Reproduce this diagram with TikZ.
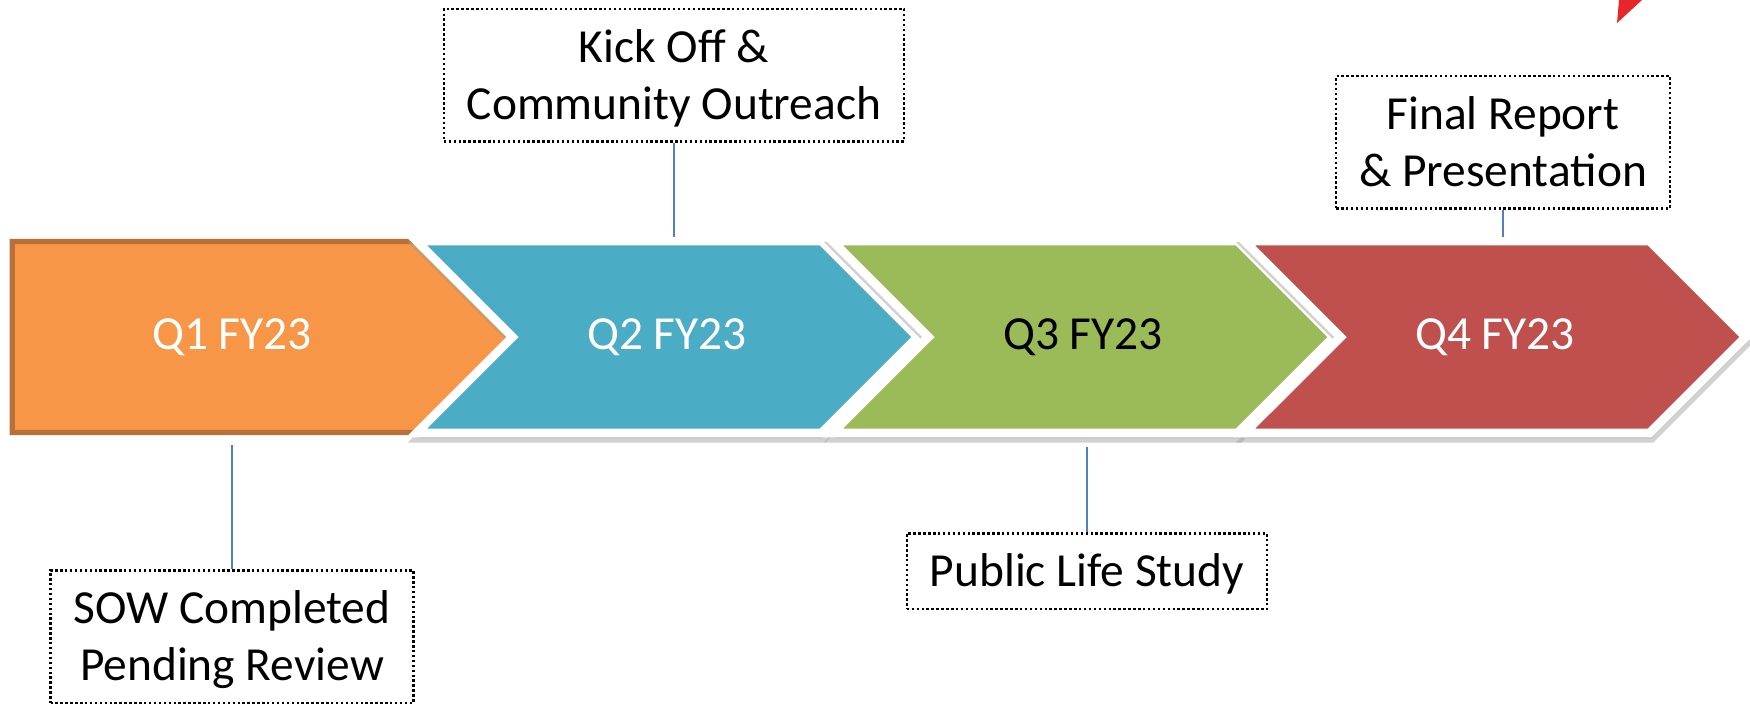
\documentclass[tikz,border=0pt]{standalone}
\usepackage{fontspec}
\setmainfont{Carlito}
\usetikzlibrary{shapes.symbols, positioning, shadows}
\definecolor{qorange}{HTML}{F79646}
\definecolor{qorangeline}{HTML}{B8703A}
\definecolor{qteal}{HTML}{4BACC6}
\definecolor{qgreen}{HTML}{9BBB59}
\definecolor{qred}{HTML}{C0504D}
\definecolor{stemblue}{HTML}{4F81BD}
\definecolor{cornerred}{HTML}{E8262A}
\tikzset{
    quarter/.style={
        signal,
        signal to=east,
        signal pointer angle=90,
        minimum width=5.01cm,
        minimum height=1.92cm,
        inner sep=0pt,
        text=white,
        font=\fontsize{13.5}{16.2}\selectfont
    },
    chevron/.style={
        quarter,
        signal from=west,
        draw=white,
        line width=2.5pt,
        drop shadow={shadow xshift=0.5pt, shadow yshift=-1.5pt, fill=black!40, draw=black!40, line width=2.5pt, opacity=0.45}
    },
    milestone/.style={
        rectangle,
        draw=black,
        line width=0.7pt,
        dash pattern=on 0.7pt off 0.7pt,
        fill=white,
        align=center,
        inner xsep=0.23cm,
        inner ysep=5.8pt,
        text depth=0.5pt,
        font=\fontsize{13.5}{16.2}\selectfont
    },
    stemline/.style={
        draw=stemblue,
        line width=0.6pt
    }
}
\begin{document}
\begin{tikzpicture}
    \useasboundingbox (0,0) rectangle (17.5,7.06);

    % Quarters
    \node[quarter, fill=qorange, draw=qorangeline, line width=1.5pt, minimum width=5.05cm, minimum height=1.91cm,
          label={[text=white, font=\fontsize{13.5}{16.2}\selectfont, xshift=0.15cm]center:Q1 FY23}] (q1) at (2.17,3.69) {};
    \node[chevron, fill=qteal] (q2) at (6.67,3.69) {Q2 FY23};
    \node[chevron, fill=qgreen, text=black] (q3) at (10.83,3.69) {Q3 FY23};
    \node[chevron, fill=qred] (q4) at (14.95,3.69) {Q4 FY23};

    % Milestones
    \node[milestone, above=0.94cm of q2, xshift=0.07cm] (kickoff) {Kick Off \&\\Community Outreach};
    \node[milestone, above=0.27cm of q4, xshift=0.08cm] (final) {Final Report\\\& Presentation};
    \node[milestone, below=1.34cm of q1, xshift=0.15cm] (sow) {SOW Completed\\Pending Review};
    \node[milestone, below=0.95cm of q3, xshift=0.04cm] (study) {Public Life Study};

    % Stems
    \draw[stemline] (kickoff.south) -- (kickoff.south |- q2.north);
    \draw[stemline] (final.south) -- (final.south |- q4.north);
    \draw[stemline, shorten >=0.1cm] (sow.north) -- (sow.north |- q1.south);
    \draw[stemline, shorten >=0.1cm] (study.north) -- (study.north |- q3.south);

    % Corner mark
    \fill[cornerred] (16.19,7.06) -- (16.42,7.06) -- (16.17,6.83) -- cycle;

\end{tikzpicture}
\end{document}
